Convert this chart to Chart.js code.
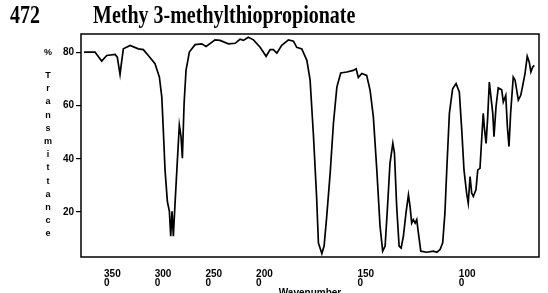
<!DOCTYPE html>
<html>
<head>
<meta charset="utf-8">
<script src="https://cdn.jsdelivr.net/npm/chart.js@4/dist/chart.umd.min.js"></script>
<style>
  html, body { margin: 0; padding: 0; background: #fff; }
  body { width: 548px; height: 293px; position: relative; overflow: hidden; }
  #chart { position: absolute; left: 0; top: 0; }
  .title { position: absolute; top: 2px; font: bold 20px "Liberation Serif", "Times New Roman", serif; line-height: 20px;
           color: #000; white-space: nowrap; transform: scaleY(1.24); transform-origin: top left; }
  .ylab { position: absolute; left: 42px; width: 12px; text-align: center; font: bold 9px "Liberation Sans", Arial, sans-serif; color: #000; }
  .ylab span { display: block; height: 13.2px; line-height: 13.2px; }
  #xlab { position: absolute; left: 260px; width: 100px; top: 288px; text-align: center;
          font: bold 10px "Liberation Sans", Arial, sans-serif; line-height: 10px; color: #000; }
</style>
</head>
<body>
<canvas id="chart" width="548" height="293"></canvas>
<div class="title" style="left:10px">472</div>
<div class="title" style="left:93px">Methy 3-methylthiopropionate</div>
<div class="ylab" style="top:46px"><span>%</span></div>
<div class="ylab" id="ylab" style="top:69px"></div>
<div id="xlab">Wavenumber</div>
<script>
// IR spectrum
const wavenumbers = [3796, 3786, 3688, 3622, 3572, 3490, 3468, 3441, 3424, 3408, 3342, 3260, 3211, 3162, 3096, 3053,
  3029, 3014, 2997, 2974, 2954, 2941, 2928, 2915, 2898, 2875, 2856, 2839, 2826, 2809, 2790, 2757, 2701, 2635, 2592,
  2503, 2454, 2372, 2306, 2257, 2224, 2175, 2125, 2059, 2000, 1980, 1964, 1947, 1923, 1890, 1865, 1849, 1824, 1799,
  1783, 1767, 1751, 1742, 1725, 1714, 1701, 1684, 1668, 1651, 1632, 1602, 1570, 1556, 1545, 1528, 1504, 1487, 1471,
  1454, 1438, 1425, 1413, 1402, 1389, 1375, 1367, 1356, 1344, 1334, 1323, 1310, 1298, 1290, 1282, 1274, 1265, 1257,
  1249, 1237, 1208, 1175, 1158, 1142, 1129, 1118, 1109, 1096, 1080, 1063, 1047, 1035, 1024, 1011, 1003, 994, 986,
  978, 965, 956, 945, 937, 929, 924, 915, 907, 899, 891, 882, 876, 866, 855, 838, 830, 818, 810, 802, 794, 781, 772,
  756, 744, 734, 723, 712, 702, 694, 685, 677];
const transmittance = [80.0, 80.2, 80.2, 76.8, 78.9, 79.3, 78.3, 71.8, 77.0, 81.4, 82.7, 81.4, 81.1, 78.9, 75.8, 70.8,
  63.3, 50.8, 35.8, 23.9, 20.2, 10.8, 20.2, 10.8, 23.4, 39.6, 52.7, 48.3, 40.2, 60.8, 73.3, 80.2, 83.0, 83.3, 82.3,
  84.8, 84.6, 83.3, 83.5, 85.0, 84.6, 85.8, 84.8, 82.0, 78.6, 81.1, 81.1, 79.8, 82.7, 84.8, 84.3, 82.0, 81.4, 77.1,
  69.6, 49.5, 25.8, 8.3, 4.3, 7.1, 18.3, 34.6, 53.3, 67.0, 72.3, 72.7, 73.3, 73.9, 70.6, 72.1, 71.4, 65.8, 55.8,
  35.8, 14.6, 5.2, 7.1, 20.8, 38.3, 45.8, 42.1, 22.1, 7.1, 6.4, 10.8, 19.6, 26.4, 22.1, 15.8, 17.1, 15.8, 17.1,
  12.1, 5.2, 4.8, 5.2, 4.8, 5.8, 8.3, 19.6, 35.8, 57.1, 66.4, 68.3, 65.2, 50.8, 35.8, 27.1, 23.3, 33.3, 27.1,
  25.8, 28.3, 35.8, 36.4, 47.1, 57.1, 52.1, 45.8, 55.8, 68.9, 63.3, 57.1, 48.3, 59.6, 66.7, 66.0, 61.4, 63.9, 52.1, 44.6, 57.1, 70.8, 69.6,
  62.1, 63.9, 67.7, 72.1, 78.6, 76.4, 72.7, 74.6, 75.2];
const xTickValues = [3500, 3000, 2500, 2000, 1500, 1000];
const yTickValues = [20, 40, 60, 80];
const yLetters = 'Transmittance';

// the chart paper is compressed 2:1 above 2000 cm-1
function toAxis(wn) {
  return wn >= 2000 ? 2000 + (wn - 2000) / 2 : wn;
}

document.getElementById('ylab').innerHTML = yLetters.split('').map(c => '<span>' + c + '</span>').join('');

const frame = {
  id: 'frame',
  afterDraw(chart) {
    const a = chart.chartArea;
    const ctx = chart.ctx;
    ctx.save();
    ctx.strokeStyle = '#000';
    ctx.lineWidth = 1.5;
    ctx.strokeRect(a.left, a.top, a.right - a.left, a.bottom - a.top);
    ctx.restore();
  }
};

const tickFont = { family: '"Liberation Sans", Arial, sans-serif', size: 10, weight: 'bold', lineHeight: 0.95 };

new Chart(document.getElementById('chart'), {
  type: 'line',
  data: {
    datasets: [{
      data: wavenumbers.map((wn, i) => ({ x: toAxis(wn), y: transmittance[i] })),
      borderColor: '#000',
      borderWidth: 1.7,
      pointRadius: 0,
      tension: 0,
      fill: false
    }]
  },
  options: {
    responsive: false,
    animation: false,
    layout: { padding: { left: 0, top: 34, right: 9, bottom: 0 } },
    plugins: { legend: { display: false }, tooltip: { enabled: false } },
    scales: {
      x: {
        type: 'linear',
        reverse: true,
        min: 654,
        max: 2913,
        afterFit: s => { s.height = 36; },
        afterBuildTicks: s => { s.ticks = xTickValues.map(v => ({ value: toAxis(v) })); },
        border: { display: false },
        grid: { display: false, drawTicks: false },
        ticks: {
          color: '#000',
          font: tickFont,
          padding: 12,
          align: 'start',
          labelOffset: -10,
          maxRotation: 0,
          callback: value => {
            const wn = xTickValues.find(v => toAxis(v) === value);
            const s = String(wn);
            return [s.slice(0, 3), s.slice(3)];
          }
        }
      },
      y: {
        min: 3,
        max: 87,
        afterFit: s => { s.width = 81; },
        afterBuildTicks: s => { s.ticks = yTickValues.map(v => ({ value: v })); },
        border: { display: false },
        grid: { drawOnChartArea: false, drawTicks: true, tickLength: 5, color: '#000', lineWidth: 1.2 },
        ticks: { color: '#000', font: tickFont, padding: 2 }
      }
    }
  },
  plugins: [frame]
});
</script>
</body>
</html>
